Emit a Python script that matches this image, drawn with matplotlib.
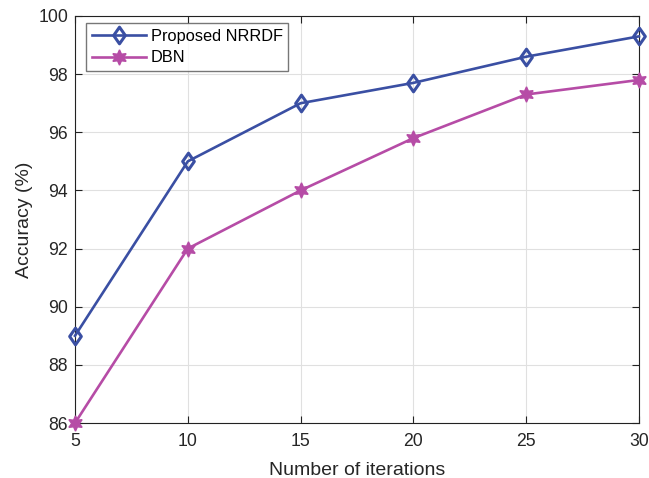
import matplotlib
matplotlib.use("Agg")
import matplotlib.pyplot as plt
from matplotlib.path import Path

iterations = [5, 10, 15, 20, 25, 30]
proposed = [89.0, 95.0, 97.0, 97.7, 98.6, 99.3]
dbn = [86.0, 92.0, 94.0, 95.8, 97.3, 97.8]
xticks = [5, 10, 15, 20, 25, 30]
yticks = [86, 88, 90, 92, 94, 96, 98, 100]

plt.rcParams['font.family'] = ['Liberation Sans', 'DejaVu Sans']
fig = plt.figure(figsize=(6.49, 4.78), dpi=100)
ax = fig.add_axes([75/649, 1-423/478, (639-75)/649, (423-16)/478])

diamond = Path([(0, 1), (0.7, 0), (0, -1), (-0.7, 0), (0, 1)],
               [Path.MOVETO, Path.LINETO, Path.LINETO, Path.LINETO, Path.CLOSEPOLY])

ax.plot(iterations, proposed, color='#3A4FA3', lw=1.9, marker=diamond, ms=12,
        mfc='none', mew=2.2, label='Proposed NRRDF', clip_on=False, zorder=3)
ax.plot(iterations, dbn, color='#B64CA6', lw=1.9, marker=(6, 1, 0), ms=11,
        mfc='#B64CA6', mew=1, label='DBN', clip_on=False, zorder=3)

ax.set_xlim(5, 30)
ax.set_ylim(86, 100)
ax.set_xticks(xticks)
ax.set_yticks(yticks)
ax.grid(True, color='#E0E0E0', lw=0.8)
ax.set_axisbelow(True)
ax.tick_params(direction='in', top=True, right=True, labelsize=12.7, length=5, color='#222222',
               labelcolor='#262626')
ax.tick_params(axis='x', pad=7)
ax.tick_params(axis='y', pad=5)
for s in ax.spines.values():
    s.set_color('#222222')
    s.set_linewidth(0.8)
ax.set_xlabel('Number of iterations', fontsize=14, labelpad=8.5, color='#262626')
ax.set_ylabel('Accuracy (%)', fontsize=14, labelpad=4, color='#262626')
leg = ax.legend(loc='upper left', bbox_to_anchor=(11/564, 1-7/407), fontsize=11.8, frameon=True,
                fancybox=False, edgecolor='#555555', handlelength=3.3, borderpad=0.35,
                labelspacing=0.4, handletextpad=0.3, borderaxespad=0)
leg.get_frame().set_linewidth(1)
fig.savefig('out.png', dpi=100)
